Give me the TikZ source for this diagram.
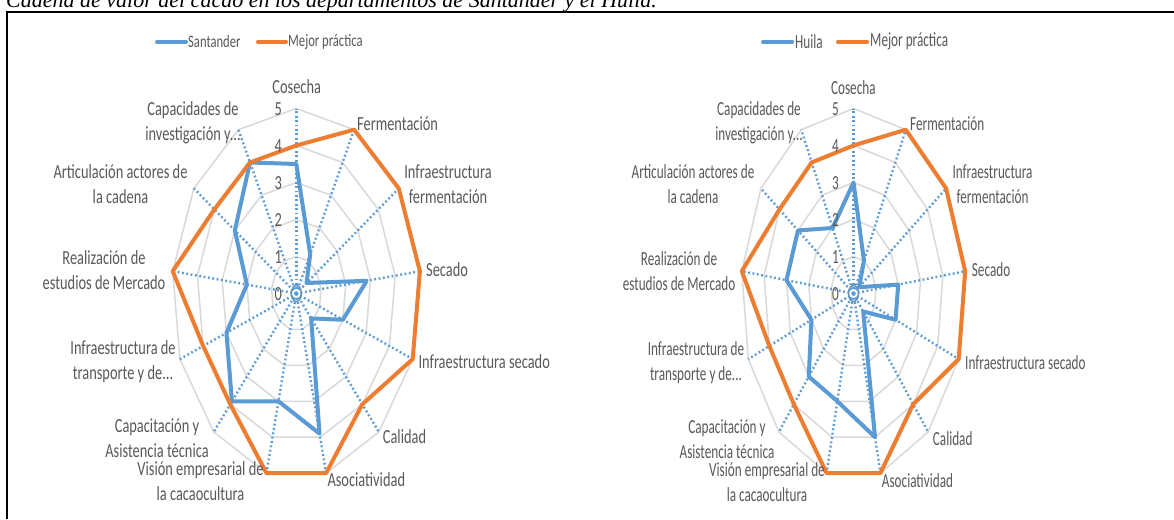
\documentclass[tikz,border=0pt]{standalone}
\usepackage{fontspec}
\newfontfamily\lfont[FakeStretch=0.72]{Carlito}
\newfontfamily\rfont[FakeStretch=0.66]{Carlito}
\newfontfamily\capfont{Liberation Serif}
\definecolor{sblue}{HTML}{5B9BD5}
\definecolor{sorange}{HTML}{ED7D31}
\definecolor{tgrey}{HTML}{595959}
\definecolor{ggrey}{HTML}{D9D9D9}
\tikzset{
  ring/.style={draw=ggrey, line width=1.5pt},
  spoke/.style={draw=sblue, line width=2.4pt, dash pattern=on 1.8pt off 2.6pt},
  serie/.style={line width=4pt, line join=round},
  legline/.style={line width=4pt, line cap=round},
  lbl/.style={text=tgrey, inner sep=0pt, align=center},
  llbl/.style={lbl, font=\lfont\fontsize{20}{25}\selectfont},
  rlbl/.style={lbl, font=\rfont\fontsize{20}{25}\selectfont},
}
% #1 cx, #2 cy, #3 sx, #4 prefix, #5 blue values, #6 label style
\newcommand\drawradar[6]{%
  \coordinate (#4c) at (#1,#2);
  \foreach \r in {1,...,5} {
    \draw[ring] plot[samples at={0,...,12}, variable=\t]
      ({#1+#3*\r*sin(\t*360/13)},{#2-37*\r*cos(\t*360/13)}) -- cycle;
  }
  \foreach \i in {0,...,12} {
    \coordinate (#4e\i) at ({#1+#3*5*sin(\i*360/13)},{#2-37*5*cos(\i*360/13)});
    \draw[spoke] (#4c) -- (#4e\i);
  }
  \draw[draw=sblue!70!gray, line width=1.5pt] (#4c) ellipse [x radius=5, y radius=8];
  \foreach \v [count=\k from 0] in {#5} {
    \coordinate (#4b\k) at ({#1+#3*\v*sin(\k*360/13)},{#2-37*\v*cos(\k*360/13)});
  }
  \foreach \v [count=\k from 0] in {4,5,5,5,5,4,5,5,4,4,5,4,4} {
    \coordinate (#4o\k) at ({#1+#3*\v*sin(\k*360/13)},{#2-37*\v*cos(\k*360/13)});
  }
  \draw[serie, sblue] (#4b0) -- (#4b1) -- (#4b2) -- (#4b3) -- (#4b4) -- (#4b5) -- (#4b6)
     -- (#4b7) -- (#4b8) -- (#4b9) -- (#4b10) -- (#4b11) -- (#4b12) -- cycle;
  \draw[serie, sorange] (#4o0) -- (#4o1) -- (#4o2) -- (#4o3) -- (#4o4) -- (#4o5) -- (#4o6)
     -- (#4o7) -- (#4o8) -- (#4o9) -- (#4o10) -- (#4o11) -- (#4o12) -- cycle;
  \foreach \n in {0,...,5} {
    \node[#6, anchor=center] (#4n\n) at ({#1-18},{#2-37*\n+1}) {\n};
  }
}
\begin{document}
\begin{tikzpicture}[x=1pt,y=-1pt]
\useasboundingbox (0,0) rectangle (1174,519);
\fill[white] (0,0) rectangle (1174,519);
\node[anchor=base west, inner sep=0pt, font=\capfont\itshape\fontsize{22}{24}\selectfont] (cap) at (6,8)
  {Cadena de valor del cacao en los departamentos de Santander y el Huila.};
\draw[line width=2.2pt] (7,519) -- (7,12) -- (1174,12);

% ---------- Santander ----------
\drawradar{296.3}{293.5}{24.9}{L}{3.5,1.2,0.5,2.85,2,0.9,3.9,3,3.9,3,2,3,4}{llbl}
\draw[legline, sblue] (157,41.7) -- (186,41.7);
\node[llbl, font=\lfont\fontsize{17.5}{20}\selectfont, anchor=west] (Lleg1) at (188,41.7) {Santander};
\draw[legline, sorange] (258,41.7) -- (286,41.7);
\node[llbl, font=\lfont\fontsize{17.5}{20}\selectfont, anchor=west] (Lleg2) at (288,41.7) {Mejor práctica};

\node[llbl] (L0) at (296.7,86.7) {Cosecha};
\node[llbl, anchor=west] (L1) at (357,123.3) {Fermentación};
\node[llbl] (L2) at (448,184) {Infraestructura\\fermentación};
\node[llbl, anchor=west] (L3) at (426,270) {Secado};
\node[llbl, anchor=west] (L4) at (418.3,361.7) {Infraestructura secado};
\node[llbl, anchor=west] (L5) at (382.7,436.7) {Calidad};
\node[llbl, anchor=west] (L6) at (327.3,480) {Asociatividad};
\node[llbl] (L7) at (200.5,481) {Visión empresarial de\\la cacaocultura};
\node[llbl] (L8) at (157,438.5) {Capacitación y\\Asistencia técnica};
\node[llbl] (L9) at (123,362) {Infraestructura de\\transporte y de...};
\node[llbl] (L10) at (104,270.5) {Realización de\\estudios de Mercado};
\node[llbl] (L11) at (120.5,184) {Articulación actores de\\la cadena};
\node[llbl] (L12) at (193,123) {Capacidades de\\investigación y...};

% ---------- Huila ----------
\drawradar{853.5}{293.5}{22.5}{R}{3,1,0.3,2,2,0.65,4,3,3,2,3,3,2}{rlbl}
\draw[legline, sblue] (763,41.7) -- (792,41.7);
\node[rlbl, anchor=west] (Rleg1) at (795,41.7) {Huila};
\draw[legline, sorange] (838,41.7) -- (867,41.7);
\node[rlbl, anchor=west] (Rleg2) at (870,41.7) {Mejor práctica};

\node[rlbl] (R0) at (853.3,87.3) {Cosecha};
\node[rlbl, anchor=west] (R1) at (910,124) {Fermentación};
\node[rlbl] (R2) at (992.5,184) {Infraestructura\\fermentación};
\node[rlbl, anchor=west] (R3) at (971.7,270) {Secado};
\node[rlbl, anchor=west] (R4) at (965,363) {Infraestructura secado};
\node[rlbl, anchor=west] (R5) at (932.7,438.3) {Calidad};
\node[rlbl, anchor=west] (R6) at (881.7,481) {Asociatividad};
\node[rlbl] (R7) at (767,482) {Visión empresarial de\\la cacaocultura};
\node[rlbl] (R8) at (727,438.7) {Capacitación y\\Asistencia técnica};
\node[rlbl] (R9) at (696,363) {Infraestructura de\\transporte y de...};
\node[rlbl] (R10) at (679,271) {Realización de\\estudios de Mercado};
\node[rlbl] (R11) at (693,184) {Articulación actores de\\la cadena};
\node[rlbl] (R12) at (759,122.5) {Capacidades de\\investigación y...};
\end{tikzpicture}
\end{document}
